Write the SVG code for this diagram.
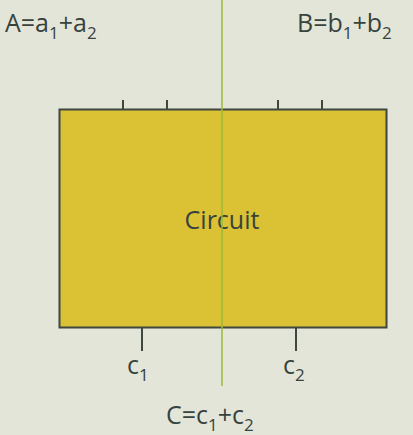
<svg xmlns="http://www.w3.org/2000/svg" width="413" height="435" viewBox="0 0 413 435">
<style>
.t{font-family:"Open Sans","Noto Sans",sans-serif;font-size:25px;fill:#37423d}
.s{font-size:17px}
.tick{stroke:#3e4740;stroke-width:2}
</style>
<rect width="413" height="435" fill="#e3e5d9"/>
<g id="circuit">
<rect x="59.5" y="109.5" width="327" height="218" fill="#dbc234" stroke="#3e4740" stroke-width="2"/>
<text class="t" x="222" y="229" text-anchor="middle">Circuit</text>
</g>
<g id="connectors">
<line class="tick" x1="123" y1="100" x2="123" y2="109"/>
<line class="tick" x1="167" y1="100" x2="167" y2="109"/>
<line class="tick" x1="278" y1="100" x2="278" y2="109"/>
<line class="tick" x1="322" y1="100" x2="322" y2="109"/>
<line class="tick" x1="142" y1="328" x2="142" y2="351"/>
<line class="tick" x1="296" y1="328" x2="296" y2="351"/>
<line x1="222" y1="0" x2="222" y2="386" stroke="#9bb83a" stroke-width="1.5"/>
</g>
<g id="labelA"><text class="t" x="5" y="32">A=a<tspan class="s" dy="7">1</tspan><tspan dy="-7">+a</tspan><tspan class="s" dy="7">2</tspan></text></g>
<g id="labelB"><text class="t" x="297" y="32">B=b<tspan class="s" dy="7">1</tspan><tspan dy="-7">+b</tspan><tspan class="s" dy="7">2</tspan></text></g>
<g id="labelc1"><text class="t" x="127" y="374">c<tspan class="s" dy="7">1</tspan></text></g>
<g id="labelc2"><text class="t" x="283" y="374">c<tspan class="s" dy="7">2</tspan></text></g>
<g id="labelC"><text class="t" x="166" y="424">C=c<tspan class="s" dy="7">1</tspan><tspan dy="-7">+c</tspan><tspan class="s" dy="7">2</tspan></text></g>
</svg>
